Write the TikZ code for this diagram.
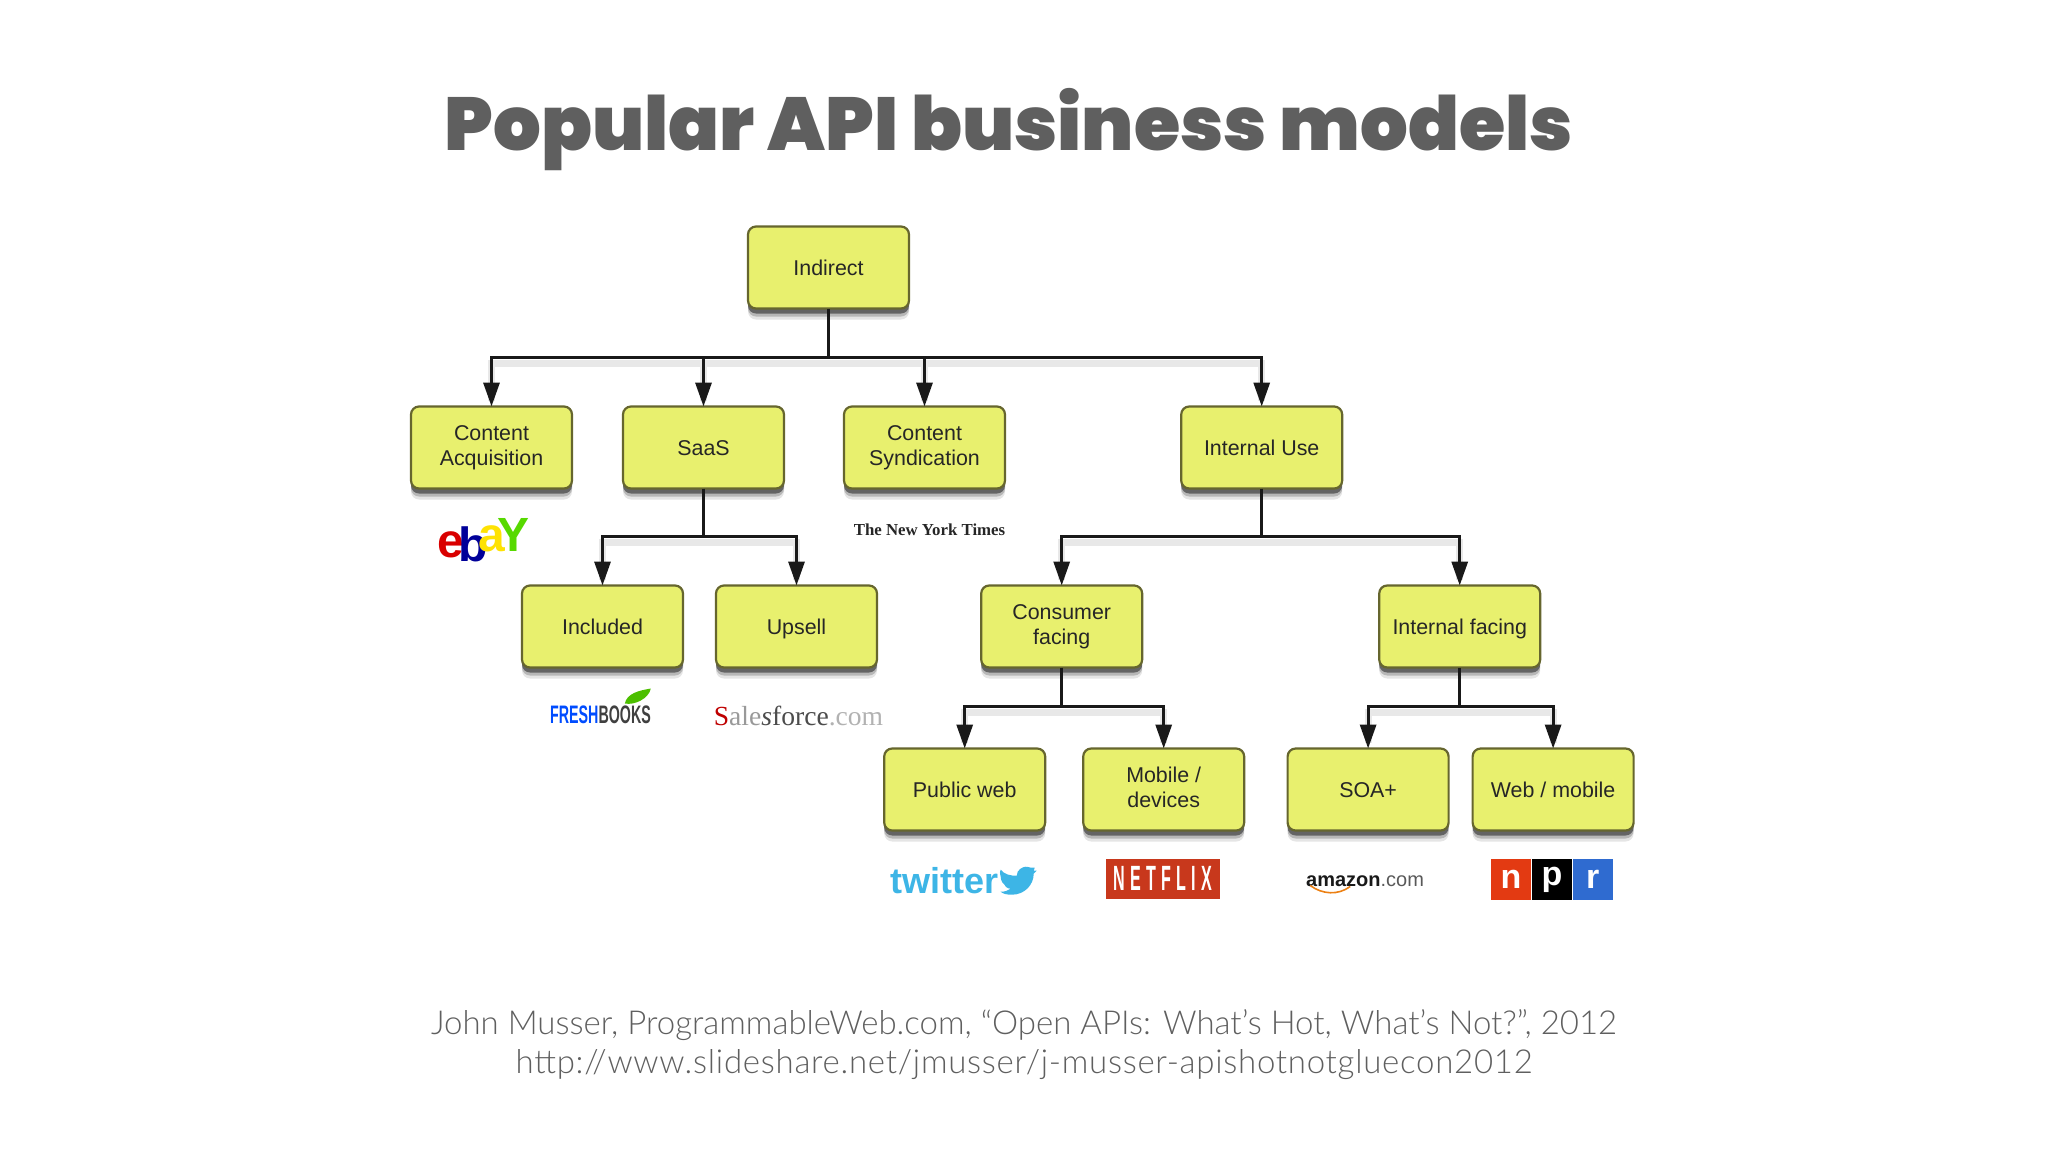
\documentclass[tikz,border=0pt]{standalone}
\usepackage{fontspec}
\setmainfont{Liberation Sans}
\newfontfamily\titlefont{Poppins Black}
\newfontfamily\capfont{Lato Light}
\newfontfamily\capwide[LetterSpace=2.2]{Lato Light}
\newfontfamily\logoserif{Liberation Serif}
\usepackage{xcolor}
\usetikzlibrary{positioning, arrows.meta, shadows, calc}

\definecolor{boxfill}{HTML}{E8F06E}
\definecolor{boxline}{HTML}{66662E}
\definecolor{titlegrey}{HTML}{5F5F5F}
\definecolor{capgrey}{HTML}{5F5F5F}
\definecolor{twblue}{HTML}{3DB5E6}
\definecolor{nflxred}{HTML}{C8381C}
\definecolor{nprred}{HTML}{E33A12}
\definecolor{nprblue}{HTML}{2F6BD0}
\newcommand{\boxstrut}{\rule[-2.2pt]{0pt}{12.2pt}}

\tikzset{
	>={Triangle[length=12pt,width=8pt]},
	apibox/.style={draw=boxline, line width=1.1pt, fill=boxfill, rounded corners=4pt, outer sep=0pt,
		minimum width=80.5pt, minimum height=41pt, inner sep=0pt, align=center,
		text=black!85, font=\fontsize{10.7}{12.5}\selectfont,
		execute at begin node=\boxstrut, execute at end node=\boxstrut,
		general shadow={shadow xshift=0pt, shadow yshift=-5.5pt, fill=black, opacity=.1},
		general shadow={shadow xshift=0pt, shadow yshift=-4pt, fill=black, opacity=.2},
		general shadow={shadow xshift=0pt, shadow yshift=-2.5pt, fill=black, opacity=.45}},
	twoline/.style={apibox, execute at end node=\rule[-0.2pt]{0pt}{1pt}},
	busline/.style={draw=black!90, line width=1.6pt},
	busshadow/.style={draw=black!9, line width=3.5pt, shorten >=6pt, transform canvas={yshift=-3pt}},
	logo/.style={inner sep=0pt, outer sep=0pt},
	cell/.style={inner sep=0pt, minimum width=20pt, minimum height=20.5pt, text=white,
		font=\fontsize{17}{17}\selectfont\bfseries},
}

\begin{document}
\begin{tikzpicture}[x=0.5pt, y=-0.5pt]
	\path[use as bounding box] (0,0) rectangle (2048,1152);

	\node[logo, text=titlegrey, font=\titlefont\fontsize{37.5}{37.5}\selectfont] (title) at (1009,130) {Popular API business models};

	\node[apibox] (indirect) at (828.5,267.5) {Indirect};

	\node[twoline, below left = 49pt and 88pt of indirect] (acquisition) {Content\\Acquisition};
	\node[apibox, right = 25.5pt of acquisition] (saas) {SaaS};
	\node[twoline, right = 30pt of saas] (syndication) {Content\\Syndication};
	\node[apibox, right = 88.1pt of syndication] (internal) {Internal Use};

	\node[apibox, below left = 48.5pt and -30pt of saas] (included) {Included};
	\node[apibox, right = 16.5pt of included] (upsell) {Upsell};
	\node[twoline, below left = 48.5pt and 19.5pt of internal] (consumer) {Consumer\\facing};
	\node[apibox, right = 118.5pt of consumer] (intfacing) {Internal facing};

	\node[apibox, below left = 40.5pt and -32pt of consumer] (publicweb) {Public web};
	\node[twoline, right = 19pt of publicweb] (mobile) {Mobile /\\devices};
	\node[apibox, right = 21.7pt of mobile] (soa) {SOA+};
	\node[apibox, right = 12pt of soa] (webmobile) {Web / mobile};

	% les traits
	\coordinate[below = 24.5pt of indirect] (bus0);
	\coordinate[below = 24pt of saas] (bus1);
	\coordinate[below = 24pt of internal] (bus2);
	\coordinate[below = 19.5pt of consumer] (bus3);
	\coordinate[below = 19.5pt of intfacing] (bus4);

	\foreach \from/\to in {bus0/acquisition, bus0/saas, bus0/syndication, bus0/internal,
		bus1/included, bus1/upsell, bus2/consumer, bus2/intfacing,
		bus3/publicweb, bus3/mobile, bus4/soa, bus4/webmobile}
		\draw[busshadow] (\from) -| (\to);

	\draw[busline] (indirect) -- (bus0);
	\draw[busline] (saas) -- (bus1);
	\draw[busline] (internal) -- (bus2);
	\draw[busline] (consumer) -- (bus3);
	\draw[busline] (intfacing) -- (bus4);

	\foreach \from/\to in {bus0/acquisition, bus0/saas, bus0/syndication, bus0/internal,
		bus1/included, bus1/upsell, bus2/consumer, bus2/intfacing,
		bus3/publicweb, bus3/mobile, bus4/soa, bus4/webmobile}
		\draw[busline, ->] (\from) -| (\to);

	% les logos
	\node[logo, below = 15pt of acquisition, xshift=-4pt, font=\fontsize{24}{24}\selectfont\bfseries] (ebay)
		{\textcolor{red!85!black}{e}\kern-3pt\textcolor{blue!60!black}{\raisebox{-2pt}{b}}\kern-4.5pt\textcolor{yellow!85!orange}{\raisebox{3pt}{a}}\kern-4pt\textcolor{green!60!yellow!85!black}{\raisebox{3pt}{Y}}};
	\node[logo, below = 17.5pt of syndication, xshift=2.5pt, text=black!85, font=\logoserif\bfseries\fontsize{8.4}{8.4}\selectfont] (nyt) {The New York Times};

	\node[logo, below = 19pt of included, xshift=-1pt, font=\fontsize{11.5}{11.5}\selectfont\bfseries] (freshbooks)
		{\textcolor{blue!70!cyan}{\scalebox{.62}[1.1]{FRESH}}\textcolor{black!75}{\scalebox{.62}[1.1]{BOOKS}}};
	\fill[green!60!yellow!75!black] ($(freshbooks.north east)+(-26,-2)$) .. controls +(2,-10) and +(-12,2) .. ($(freshbooks.north east)+(0,-17)$) .. controls +(-2,10) and +(10,2) .. ($(freshbooks.north east)+(-26,-2)$) -- cycle;

	\node[logo, below = 19.5pt of upsell, xshift=1pt, font=\logoserif\fontsize{13.8}{13.8}\selectfont] (salesforce)
		{\textcolor{red!75!black}{S}\textcolor{black!40}{ale}\textcolor{black!70}{\textit{s}force}\textcolor{black!30}{.com}};

	\node[logo, below = 18.5pt of publicweb, xshift=-10pt, text=twblue, font=\fontsize{18}{18}\selectfont\bfseries] (twitter) {twitter};
	\fill[twblue, shift={($(twitter.east)+(2,-14)$)}] (0,3) .. controls (4,8) and (10,9) .. (16,9)
		.. controls (16,3) and (22,0) .. (25,0) .. controls (29,0) and (31,2) .. (34,1) -- (33,4) -- (36,4) -- (33,7)
		.. controls (33,18) and (24,28) .. (11,28) .. controls (6,28) and (2,27) .. (0,25)
		.. controls (4,25) and (7,24) .. (10,22) .. controls (6,22) and (4,19) .. (3,17)
		.. controls (1,16) and (0,12) .. (0,10) .. controls (-1,6) and (-1,4) .. (0,3) -- cycle;

	\node[logo, below = 14pt of mobile, xshift=-.5pt, fill=nflxred, minimum width=57pt, minimum height=20pt, text=white, font=\fontsize{13}{13}\selectfont\bfseries] (netflix)
		{\scalebox{.62}[1.35]{N\,\,E\,\,T\,\,F\,\,L\,\,I\,\,X}};

	\node[logo, below = 22.5pt of soa, xshift=-1.5pt, font=\fontsize{10}{10}\selectfont] (amazon)
		{\textcolor{black!90}{\bfseries amazon}\textcolor{black!65}{.com}};
	\draw[orange!70!brown, line width=.8pt] ($(amazon.south west)+(4,-1)$) .. controls +(12,9) and +(-12,9) .. ($(amazon.south west)+(44,0)$);

	\node[cell, below = 14pt of webmobile, xshift=-21pt, fill=nprred] (nprp0) {n};
	\node[cell, fill=black, right = 0pt of nprp0] (nprp1) {p};
	\node[cell, fill=nprblue, right = 0pt of nprp1] (nprp2) {r};

	\node[logo, text=capgrey, font=\capfont\fontsize{16.5}{16.5}\selectfont] (cap1) at (1024,1025) {John Musser, ProgrammableWeb.com, “Open APIs: What’s Hot, What’s Not?”, 2012};
	\node[logo, below = 4.5pt of cap1, text=capgrey, font=\capwide\fontsize{16.5}{16.5}\selectfont] (cap2) {http://www.slideshare.net/jmusser/j-musser-apishotnotgluecon2012};
\end{tikzpicture}
\end{document}
